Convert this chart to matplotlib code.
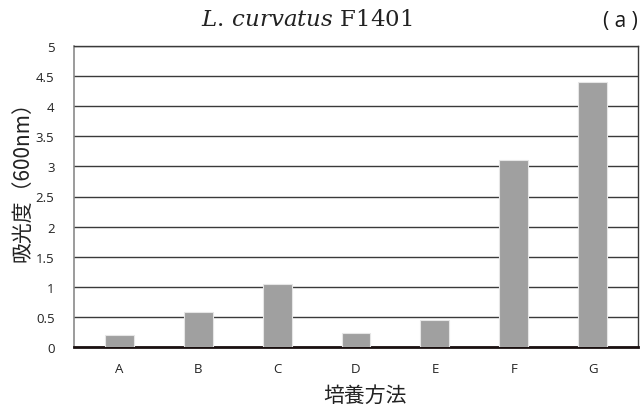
import matplotlib
matplotlib.use("Agg")
import matplotlib.pyplot as plt
import numpy as np

methods = ["A", "B", "C", "D", "E", "F", "G"]
absorbance = [0.20, 0.58, 1.05, 0.24, 0.45, 3.10, 4.41]
yticks = [0, 0.5, 1, 1.5, 2, 2.5, 3, 3.5, 4, 4.5, 5]
ytick_labels = ["0", "0.5", "1", "1.5", "2", "2.5", "3", "3.5", "4", "4.5", "5"]

plt.rcParams["font.family"] = ["Open Sans", "Noto Sans CJK JP", "DejaVu Sans"]
plt.rcParams["mathtext.fontset"] = "dejavuserif"

fig = plt.figure(figsize=(6.4, 4.1), dpi=100)
ax = fig.add_axes([74 / 640, 1 - 348 / 410, 564 / 640, 301 / 410])

x = np.arange(len(methods))
ax.bar(x, absorbance, width=0.367, color="#a0a0a0", edgecolor="#e6e6e6",
       linewidth=0.8, zorder=3)

ax.set_xlim(-0.57, 6.57)
ax.set_ylim(0, 5)
ax.set_yticks(yticks)
ax.set_yticklabels(ytick_labels)
ax.set_xticks(x)
ax.set_xticklabels(methods)
ax.tick_params(axis="both", length=0, labelsize=9.5, colors="#222222")
ax.tick_params(axis="y", pad=14)
ax.tick_params(axis="x", pad=11)

ax.yaxis.grid(True, color="#3a3a3a", linewidth=1.0, zorder=0)
ax.set_axisbelow(True)
for side in ("top", "right"):
    ax.spines[side].set_color("#3a3a3a")
    ax.spines[side].set_linewidth(1.0)
ax.spines["left"].set_color("#8a8a8a")
ax.spines["left"].set_linewidth(1.2)
ax.spines["bottom"].set_color("#1a1010")
ax.spines["bottom"].set_linewidth(2.0)

ax.set_ylabel("吸光度（600nm）", family=["Noto Sans CJK JP"], fontsize=15,
              color="#222222")
ax.yaxis.set_label_coords(-(74 - 22) / 564, (348 - 177) / 301)
ax.set_xlabel("培養方法", family=["Noto Sans CJK JP"], fontsize=15,
              color="#222222")
ax.xaxis.set_label_coords((365 - 74) / 564, -(396 - 348) / 301)
ax.xaxis.label.set_va("center")
ax.yaxis.label.set_va("center")

fig.text(307 / 640, 1 - 20 / 410, r"$\mathit{L.\,curvatus}$ F1401",
         ha="center", va="center", fontsize=16.5, family="DejaVu Serif",
         color="#222222")
fig.text(620 / 640, 1 - 22 / 410, "( a )", ha="center", va="center",
         fontsize=15, family=["Open Sans"], color="#1a1a1a")

fig.savefig("out.png", dpi=100)
